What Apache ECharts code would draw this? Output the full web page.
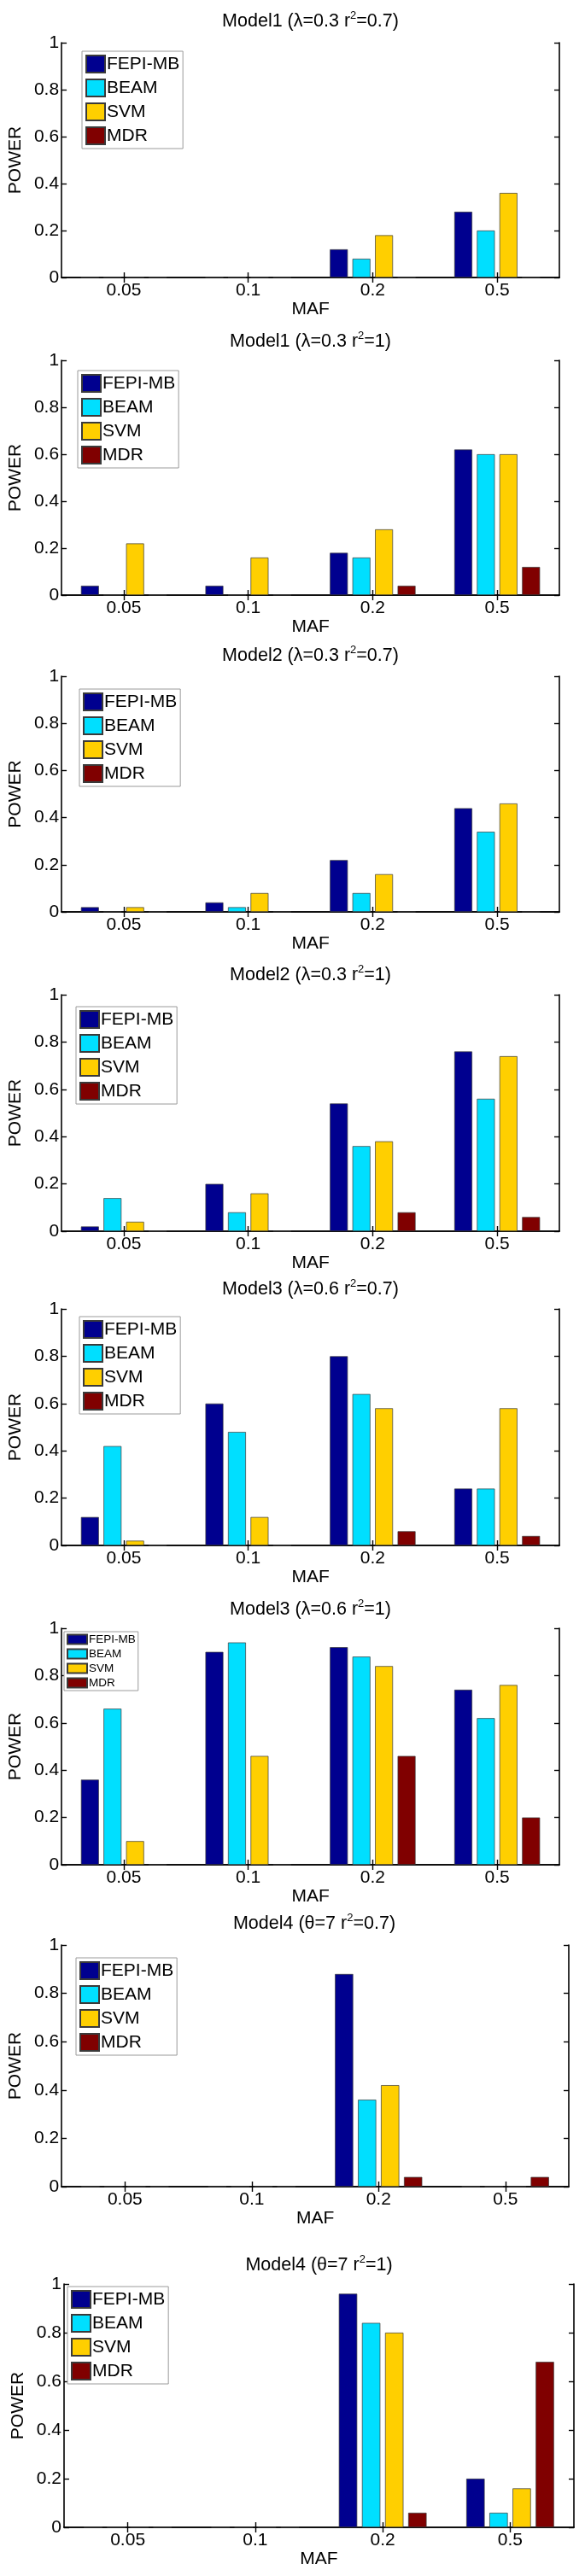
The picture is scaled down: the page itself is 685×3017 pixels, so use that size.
<!DOCTYPE html>
<html><head><meta charset="utf-8">
<script src="https://cdn.jsdelivr.net/npm/echarts@6/dist/echarts.min.js"></script>
<style>html,body{margin:0;padding:0;background:#fff}#c{width:685px;height:3017px}</style>
</head><body><div id="c"></div>
<script>
// ---------- DATA ----------
const categories = ['0.05', '0.1', '0.2', '0.5'];
const methods = ['FEPI-MB', 'BEAM', 'SVM', 'MDR'];
const titlePre  = ['Model1 (λ=0.3 r', 'Model1 (λ=0.3 r', 'Model2 (λ=0.3 r', 'Model2 (λ=0.3 r',
                   'Model3 (λ=0.6 r', 'Model3 (λ=0.6 r', 'Model4 (θ=7 r', 'Model4 (θ=7 r'];
const titlePost = ['=0.7)', '=1)', '=0.7)', '=1)', '=0.7)', '=1)', '=0.7)', '=1)'];

const p1FEPI = [0, 0, 0.12, 0.28];
const p1BEAM = [0, 0, 0.08, 0.20];
const p1SVM  = [0, 0, 0.18, 0.36];
const p1MDR  = [0, 0, 0, 0];

const p2FEPI = [0.04, 0.04, 0.18, 0.62];
const p2BEAM = [0, 0, 0.16, 0.60];
const p2SVM  = [0.22, 0.16, 0.28, 0.60];
const p2MDR  = [0, 0, 0.04, 0.12];

const p3FEPI = [0.02, 0.04, 0.22, 0.44];
const p3BEAM = [0, 0.02, 0.08, 0.34];
const p3SVM  = [0.02, 0.08, 0.16, 0.46];
const p3MDR  = [0, 0, 0, 0];

const p4FEPI = [0.02, 0.20, 0.54, 0.76];
const p4BEAM = [0.14, 0.08, 0.36, 0.56];
const p4SVM  = [0.04, 0.16, 0.38, 0.74];
const p4MDR  = [0, 0, 0.08, 0.06];

const p5FEPI = [0.12, 0.60, 0.80, 0.24];
const p5BEAM = [0.42, 0.48, 0.64, 0.24];
const p5SVM  = [0.02, 0.12, 0.58, 0.58];
const p5MDR  = [0, 0, 0.06, 0.04];

const p6FEPI = [0.36, 0.90, 0.92, 0.74];
const p6BEAM = [0.66, 0.94, 0.88, 0.62];
const p6SVM  = [0.10, 0.46, 0.84, 0.76];
const p6MDR  = [0, 0, 0.46, 0.20];

const p7FEPI = [0, 0, 0.88, 0];
const p7BEAM = [0, 0, 0.36, 0];
const p7SVM  = [0, 0, 0.42, 0];
const p7MDR  = [0, 0, 0.04, 0.04];

const p8FEPI = [0, 0, 0.96, 0.20];
const p8BEAM = [0, 0, 0.84, 0.06];
const p8SVM  = [0, 0, 0.80, 0.16];
const p8MDR  = [0, 0, 0.06, 0.68];

const panels = [
  [p1FEPI, p1BEAM, p1SVM, p1MDR], [p2FEPI, p2BEAM, p2SVM, p2MDR],
  [p3FEPI, p3BEAM, p3SVM, p3MDR], [p4FEPI, p4BEAM, p4SVM, p4MDR],
  [p5FEPI, p5BEAM, p5SVM, p5MDR], [p6FEPI, p6BEAM, p6SVM, p6MDR],
  [p7FEPI, p7BEAM, p7SVM, p7MDR], [p8FEPI, p8BEAM, p8SVM, p8MDR]
];

// ---------- LAYOUT / STYLE ----------
const colors = ['#00008F', '#00DFFF', '#FFCF00', '#800000'];
const FONT = 'Liberation Sans, Arial, Helvetica, sans-serif';
const layout = [
  {l: 72, r: 655, t: 50,   b: 325,  ty: 25,   lx: 96, ly: 60,   lf: 21},
  {l: 72, r: 655, t: 422,  b: 697,  ty: 400,  lx: 91, ly: 434,  lf: 21},
  {l: 72, r: 655, t: 792,  b: 1068, ty: 768,  lx: 93, ly: 807,  lf: 21},
  {l: 72, r: 655, t: 1165, b: 1442, ty: 1142, lx: 89, ly: 1179, lf: 21},
  {l: 72, r: 655, t: 1533, b: 1810, ty: 1510, lx: 93, ly: 1542, lf: 21},
  {l: 72, r: 655, t: 1907, b: 2184, ty: 1885, lx: 75, ly: 1911, lf: 13.5},
  {l: 70, r: 666, t: 2278, b: 2561, ty: 2253, lx: 89, ly: 2293, lf: 21},
  {l: 75, r: 672, t: 2675, b: 2960, ty: 2653, lx: 79, ly: 2678, lf: 21}
];

const option = {
  animation: false,
  backgroundColor: '#ffffff',
  title: [], legend: [], grid: [], xAxis: [], yAxis: [], series: []
};

const axisLine = {show: true, lineStyle: {color: '#000', width: 1.6}};
const tick = {show: true, inside: true, length: 6, lineStyle: {color: '#000', width: 1.4}};

layout.forEach((L, i) => {
  const cx = (L.l + L.r) / 2;
  option.title.push({
    text: '{a|' + titlePre[i] + '}{s|2}{a|' + titlePost[i] + '}',
    left: cx, top: L.ty - 13, textAlign: 'center', padding: 0,
    textStyle: {
      fontWeight: 'normal',
      rich: {
        a: {fontFamily: FONT, fontSize: 21.5, fontWeight: 'normal', color: '#000', lineHeight: 26},
        s: {fontFamily: FONT, fontSize: 13, fontWeight: 'normal', color: '#000', lineHeight: 15, verticalAlign: 'top'}
      }
    }
  });
  const small = L.lf < 15;
  option.legend.push({
    data: methods, orient: 'vertical', left: L.lx, top: L.ly,
    padding: small ? [2, 3, 2, 3] : [4, 4, 4, 4],
    itemWidth: small ? 23 : 22, itemHeight: small ? 11 : 20, itemGap: small ? 3 : 6,
    backgroundColor: '#fff', borderColor: '#9a9a9a', borderWidth: 1, borderRadius: 0,
    icon: 'rect', selectedMode: false,
    textStyle: {fontFamily: FONT, fontSize: L.lf, color: '#000', padding: [0, 0, 0, -3]}
  });
  option.grid.push({left: L.l, top: L.t, width: L.r - L.l, height: L.b - L.t,
    show: false, containLabel: false});
  option.xAxis.push({
    type: 'category', gridIndex: i, data: categories, position: 'bottom',
    axisLine: axisLine, axisTick: Object.assign({alignWithLabel: true}, tick),
    axisLabel: {fontFamily: FONT, fontSize: 21, color: '#000', margin: 5},
    name: 'MAF', nameLocation: 'middle', nameGap: 25,
    nameTextStyle: {fontFamily: FONT, fontSize: 21, color: '#000'}
  });
  option.xAxis.push({
    type: 'category', gridIndex: i, data: categories, position: 'top',
    axisLine: axisLine, axisTick: Object.assign({alignWithLabel: true}, tick),
    axisLabel: {show: false}
  });
  option.yAxis.push({
    type: 'value', gridIndex: i, min: 0, max: 1, interval: 0.2, position: 'left',
    axisLine: axisLine, axisTick: tick, splitLine: {show: false},
    axisLabel: {fontFamily: FONT, fontSize: 21, color: '#000', margin: 3},
    name: 'POWER', nameLocation: 'middle', nameGap: 37, nameRotate: 90,
    nameTextStyle: {fontFamily: FONT, fontSize: 21, color: '#000'}
  });
  option.yAxis.push({
    type: 'value', gridIndex: i, min: 0, max: 1, interval: 0.2, position: 'right',
    axisLine: axisLine, axisTick: tick, splitLine: {show: false}, axisLabel: {show: false}
  });
  panels[i].forEach((vals, k) => {
    option.series.push({
      type: 'bar', name: methods[k], data: vals,
      xAxisIndex: 2 * i, yAxisIndex: 2 * i,
      barWidth: '14.4%', barGap: '26%',
      itemStyle: {color: colors[k], borderColor: '#3a3a3a', borderWidth: 0.7},
      emphasis: {disabled: true}
    });
  });
});

const chart = echarts.init(document.getElementById('c'), null, {renderer: 'canvas', width: 685, height: 3017});
chart.setOption(option);
</script>
</body></html>
